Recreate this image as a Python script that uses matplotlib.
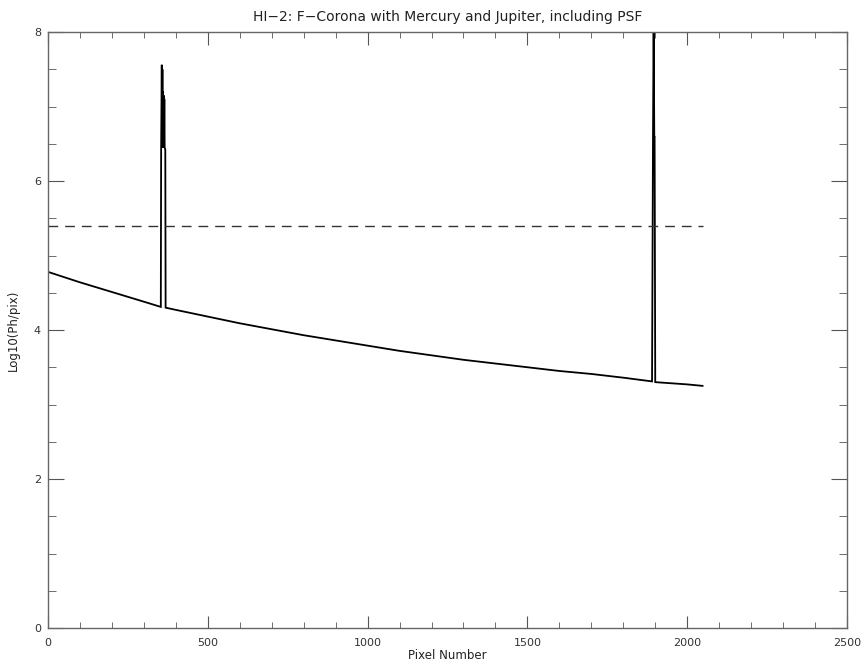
import numpy as np
import matplotlib
matplotlib.use("Agg")
import matplotlib.pyplot as plt
from matplotlib.ticker import MultipleLocator

# Smooth F-corona background (pixel, log10 photons/pixel)
curve_x = [0, 100, 200, 300, 353, 368, 400, 500, 600, 700, 800, 900, 1000, 1100, 1200,
           1300, 1400, 1500, 1600, 1700, 1800, 1890, 1900, 2000, 2048]
curve_y = [4.78, 4.64, 4.51, 4.38, 4.31, 4.30, 4.27, 4.18, 4.09, 4.01, 3.93, 3.86, 3.79,
           3.72, 3.66, 3.60, 3.55, 3.50, 3.45, 3.41, 3.36, 3.31, 3.30, 3.27, 3.25]

# Mercury spike (with PSF)
mercury_x = [354, 356, 357, 358, 359, 360, 361, 362, 363, 364, 365, 367]
mercury_y = [6.42, 7.56, 6.50, 7.50, 6.45, 7.20, 6.50, 7.15, 6.45, 7.10, 6.45, 6.42]

# Jupiter spike (with PSF)
jupiter_x = [1893, 1894, 1895, 1896, 1897, 1898]
jupiter_y = [6.59, 7.36, 8.60, 7.36, 6.59, 6.59]

# Threshold (dashed)
thresh_x = [0, 2048]
thresh_y = [5.4, 5.4]

x_all = np.array(curve_x + mercury_x + jupiter_x, dtype=float)
y_all = np.array(curve_y + mercury_y + jupiter_y, dtype=float)
order = np.argsort(x_all, kind="stable")
x_all, y_all = x_all[order], y_all[order]

fig = plt.figure(figsize=(8.66, 6.66), dpi=100)
ax = fig.add_axes([48/866, 38/666, 799/866, 596/666])

ax.plot(x_all, y_all, color="black", lw=1.3, solid_joinstyle="miter")
ax.plot(thresh_x, thresh_y, color="#333333", lw=1.0, dashes=(7, 5))

ax.set_xlim(0, 2500)
ax.set_ylim(0, 8)
ax.xaxis.set_major_locator(MultipleLocator(500))
ax.xaxis.set_minor_locator(MultipleLocator(100))
ax.yaxis.set_major_locator(MultipleLocator(2))
ax.yaxis.set_minor_locator(MultipleLocator(0.5))

ax.tick_params(which="both", direction="in", top=True, right=True, color="#555555",
               labelsize=8, labelcolor="#333333")
ax.tick_params(axis="x", which="major", length=9, pad=7)
ax.tick_params(axis="x", which="minor", length=4.5)
ax.tick_params(axis="y", which="major", length=11.5, pad=5)
ax.tick_params(axis="y", which="minor", length=5.8)
for s in ax.spines.values():
    s.set_color("#666666")
    s.set_linewidth(1.0)

ax.set_title("HI\u22122: F\u2212Corona with Mercury and Jupiter, including PSF",
             fontsize=10, color="#222222", pad=8)
ax.set_xlabel("Pixel Number", fontsize=8.5, color="#222222", labelpad=1)
ax.set_ylabel("Log10(Ph/pix)", fontsize=8.5, color="#222222", labelpad=10)

fig.savefig("out.png", dpi=100, facecolor="white")
